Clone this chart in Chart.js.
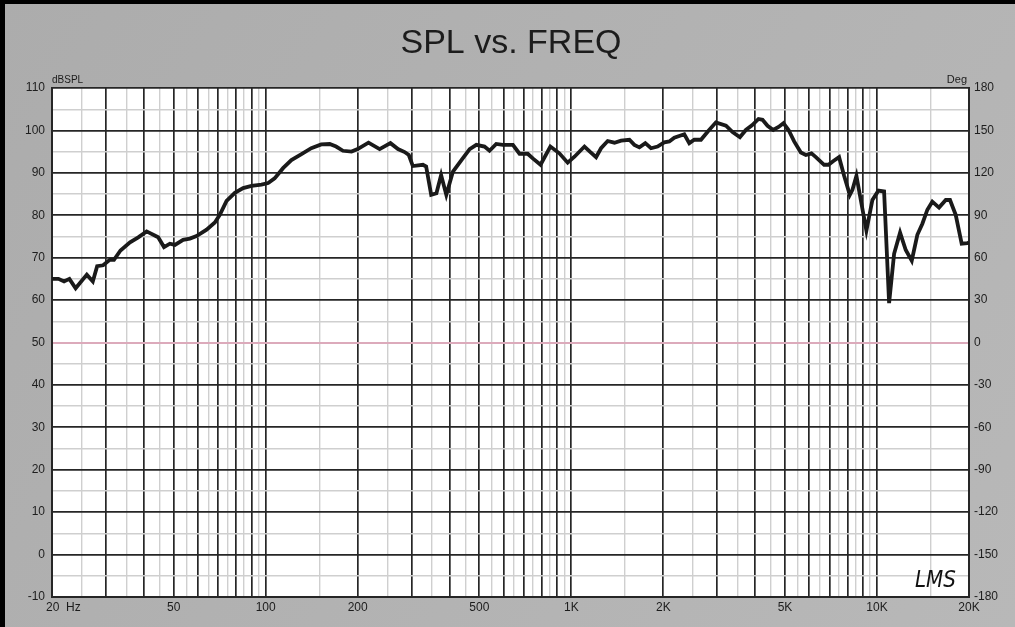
<!DOCTYPE html>
<html>
<head>
<meta charset="utf-8">
<script src="https://cdn.jsdelivr.net/npm/chart.js@4.4.0/dist/chart.umd.min.js"></script>
<style>
  html, body { margin: 0; padding: 0; background: #000; }
  canvas { display: block; }
</style>
</head>
<body>
<canvas id="c" width="1015" height="627"></canvas>
<script>
const freqHz = [
  20, 21, 21.9, 22.8, 23.9, 26, 27.2, 28.1, 29.4, 30.9,
  31.9, 33.5, 36, 38.3, 40.8, 44.5, 46.5, 48.6, 50.5, 53.7,
  56.5, 59.4, 64.1, 68.2, 70.8, 74.5, 79.3, 84.4, 89.9, 96.9,
  101.9, 107, 114, 121.4, 131, 141, 152, 162, 170, 179,
  191, 200, 217, 236, 256, 271, 285, 294, 303, 327,
  335, 348, 362, 375, 390, 410, 437, 465, 489, 520,
  540, 568, 597, 644, 677, 720, 748, 793, 854, 914,
  973, 1024, 1104, 1150, 1205, 1251, 1315, 1384, 1455, 1549,
  1608, 1670, 1746, 1823, 1915, 2014, 2092, 2172, 2342, 2432,
  2525, 2655, 2792, 2972, 3206, 3369, 3561, 3724, 3900, 4096,
  4222, 4385, 4576, 4764, 4944, 5136, 5358, 5636, 5852, 6104,
  6310, 6714, 6937, 7202, 7516, 7806, 8149, 8312, 8566, 8851,
  9234, 9661, 10108, 10550, 10956, 11376, 11900, 12418, 12994, 13554,
  14076, 14616, 15171, 15960, 16790, 17332, 18094, 18927, 19744, 20000
];
const splDb = [
  65, 65, 64.4, 65, 62.8, 66, 64.4, 68, 68.2, 69.5,
  69.5, 71.7, 73.6, 74.8, 76.2, 74.8, 72.5, 73.3, 73, 74.2,
  74.5, 75.1, 76.6, 78.3, 80.1, 83.4, 85.3, 86.4, 86.9, 87.2,
  87.6, 88.7, 91.1, 93, 94.4, 95.8, 96.7, 96.8, 96.2, 95.2,
  95, 95.6, 97.1, 95.6, 97, 95.6, 94.9, 94.2, 91.6, 91.9,
  91.5, 84.8, 85.2, 89.5, 84.8, 90.3, 93, 95.6, 96.6, 96.2,
  95.2, 96.8, 96.6, 96.6, 94.5, 94.5, 93.4, 91.9, 96.2, 94.6,
  92.4, 93.8, 96.2, 95, 93.7, 95.8, 97.5, 97.1, 97.6, 97.8,
  96.6, 96, 97, 95.8, 96.2, 97.2, 97.4, 98.3, 99.1, 97,
  97.8, 97.8, 99.7, 101.9, 101.1, 99.6, 98.4, 100.1, 101.2, 102.7,
  102.5, 101.1, 100.1, 100.8, 101.7, 100.1, 97.4, 94.8, 94.2, 94.6,
  93.7, 91.9, 91.9, 92.8, 93.7, 89.3, 84.8, 86, 89.3, 83.6,
  76.4, 83.6, 85.8, 85.6, 59.3, 70.9, 75.9, 71.8, 69.3, 75.4,
  78, 81.3, 83.2, 81.8, 83.6, 83.6, 80.1, 73.3, 73.4, 73.6
];

// axis labelling
const xLabelFreqs = [20, 50, 100, 200, 500, 1000, 2000, 5000, 10000, 20000];
const xLabelText = ['20', '50', '100', '200', '500', '1K', '2K', '5K', '10K', '20K'];
const dbMin = -10, dbMax = 110;
const degMin = -180, degMax = 180;

// grid: dark at 1..9 x decade, light at the half steps
const gridFreqs = [];
[10, 100, 1000, 10000].forEach((d) => {
  for (let m = 1; m < 10; m += 0.5) {
    const v = m * d;
    if (v >= 20 && v <= 20000) gridFreqs.push(v);
  }
});
gridFreqs.push(20000);

const DARK = '#262626';
const LIGHT = '#cfcfcf';
const PINK = '#dcaabb';
const FONT = '"Liberation Sans", Arial, sans-serif';

Chart.defaults.font.family = FONT;
Chart.defaults.color = '#1e1e1e';

function isWhole(v) {
  const m = v / Math.pow(10, Math.floor(Math.log10(v) + 1e-9));
  return Math.abs(m - Math.round(m)) < 1e-6;
}

const frame = {
  id: 'frame',
  beforeDraw(chart) {
    const { ctx, chartArea: a, width, height } = chart;
    ctx.save();
    ctx.fillStyle = '#000';
    ctx.fillRect(0, 0, width, height);
    const g = ctx.createLinearGradient(0, 0, width, height);
    g.addColorStop(0, '#acacac');
    g.addColorStop(1, '#b8b8b8');
    ctx.fillStyle = g;
    ctx.fillRect(5, 4, width - 5, height - 4);
    ctx.fillStyle = '#fff';
    ctx.fillRect(a.left, a.top, a.right - a.left, a.bottom - a.top);
    ctx.restore();
  },
  afterDraw(chart) {
    const { ctx, chartArea: a } = chart;
    const xs = chart.scales.x;
    ctx.save();
    ctx.fillStyle = '#1c1c1c';
    ctx.textAlign = 'center';
    ctx.textBaseline = 'middle';
    ctx.font = '34px ' + FONT;
    ctx.fillText('SPL vs. FREQ', 511, 44);

    ctx.font = '10px ' + FONT;
    ctx.textBaseline = 'alphabetic';
    ctx.textAlign = 'left';
    ctx.fillText('dBSPL', a.left, 83);
    ctx.font = '11px ' + FONT;
    ctx.textAlign = 'right';
    ctx.fillText('Deg', 967, 83);

    ctx.font = '12px ' + FONT;
    ctx.textBaseline = 'middle';
    xLabelFreqs.forEach((f, i) => {
      const px = xs.getPixelForValue(f);
      if (i === 0) {
        ctx.textAlign = 'left';
        ctx.fillText(xLabelText[i] + '  Hz', px - 6, 608);
      } else {
        ctx.textAlign = 'center';
        ctx.fillText(xLabelText[i], px, 608);
      }
    });

    // LMS mark
    ctx.font = 'italic 21px "DejaVu Sans", sans-serif';
    ctx.textAlign = 'left';
    ctx.textBaseline = 'alphabetic';
    ctx.fillStyle = '#111';
    ctx.translate(915, 587);
    ctx.scale(0.95, 1.1);
    ctx.fillText('LMS', 0, 0);
    ctx.restore();
  }
};

new Chart(document.getElementById('c'), {
  type: 'line',
  data: {
    datasets: [{
      data: freqHz.map((f, i) => ({ x: f, y: splDb[i] })),
      borderColor: '#1a1a1a',
      borderWidth: 3.8,
      pointRadius: 0,
      tension: 0,
      fill: false,
      yAxisID: 'y'
    }]
  },
  options: {
    responsive: false,
    animation: false,
    devicePixelRatio: 1,
    layout: { padding: { top: 88, left: 0, right: 0, bottom: 0 } },
    plugins: { legend: { display: false }, tooltip: { enabled: false } },
    scales: {
      x: {
        type: 'logarithmic',
        min: 20,
        max: 20000,
        afterBuildTicks: (axis) => { axis.ticks = gridFreqs.map((v) => ({ value: v })); },
        afterFit: (axis) => { axis.height = 30; },
        ticks: { display: false },
        grid: {
          drawTicks: false,
          color: (ctx) => (ctx.tick && isWhole(ctx.tick.value) ? DARK : LIGHT),
          lineWidth: (ctx) => (ctx.tick && isWhole(ctx.tick.value) ? 1.7 : 1.4)
        },
        border: { color: DARK, width: 2 }
      },
      y: {
        position: 'left',
        min: dbMin,
        max: dbMax,
        afterFit: (axis) => { axis.width = 52; },
        ticks: {
          stepSize: 5,
          autoSkip: false,
          padding: 7,
          font: { size: 12 },
          color: '#1e1e1e',
          callback: (v) => (v % 10 === 0 ? String(v) : '')
        },
        grid: {
          drawTicks: false,
          color: (ctx) => {
            const v = ctx.tick ? ctx.tick.value : 0;
            if (v === 50) return PINK;
            return v % 10 === 0 ? DARK : LIGHT;
          },
          lineWidth: (ctx) => {
            const v = ctx.tick ? ctx.tick.value : 0;
            if (v === 50) return 2;
            return v % 10 === 0 ? 1.7 : 1.4;
          }
        },
        border: { color: DARK, width: 2 }
      },
      deg: {
        position: 'right',
        min: degMin,
        max: degMax,
        afterFit: (axis) => { axis.width = 46; },
        ticks: {
          stepSize: 30,
          autoSkip: false,
          padding: 5,
          font: { size: 12 },
          color: '#1e1e1e'
        },
        grid: { drawOnChartArea: false, drawTicks: false },
        border: { color: DARK, width: 2 }
      }
    }
  },
  plugins: [frame]
});
</script>
</body>
</html>
